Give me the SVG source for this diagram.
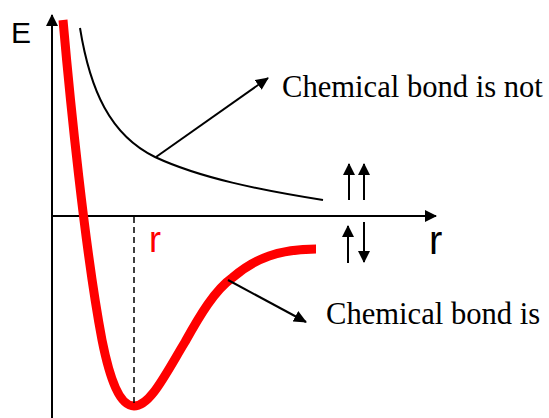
<svg xmlns="http://www.w3.org/2000/svg" width="549" height="418" viewBox="0 0 549 418">
<style>
.ax{stroke:#000;stroke-width:2;fill:none}
.thin{stroke:#000;stroke-width:2;fill:none}
.sans{font-family:"Liberation Sans",Arial,sans-serif}
.serif{font-family:"Liberation Serif","Times New Roman",serif;font-size:30.6px;fill:#000}
</style>
<defs>
<marker id="ah" markerWidth="12" markerHeight="12" refX="11" refY="6" orient="auto" markerUnits="userSpaceOnUse" viewBox="0 0 12 12">
<path d="M0,0 L12,6 L0,12 Z" fill="#000"/>
</marker>
<marker id="ahs" markerWidth="13" markerHeight="12" refX="12" refY="6" orient="auto" markerUnits="userSpaceOnUse" viewBox="0 0 13 12">
<path d="M0,0 L13,6 L0,12 Z" fill="#000"/>
</marker>
</defs>
<rect width="549" height="418" fill="#fff"/>
<g id="axes">
<line class="ax" x1="52" y1="418" x2="52" y2="15" marker-end="url(#ah)"/>
<line class="ax" x1="52" y1="216" x2="436" y2="216" marker-end="url(#ah)"/>
<text class="sans" x="11" y="43" font-size="30">E</text>
<text class="sans" x="429" y="254" font-size="40">r</text>
</g>
<g id="curves">
<path d="M80,28 C90,90 110,135 155,157 C200,178 260,190 323,200" class="thin"/>
<path d="M63,20 C70,100 85,250 102,340 C110,380 120,406 134,406 C150,406 165,375 185,342 C200,315 215,290 232,278 C255,258 280,249 316,249" fill="none" stroke="#f00" stroke-width="9"/>
<line x1="134" y1="217" x2="134" y2="406" stroke="#000" stroke-width="1.5" stroke-dasharray="6,4"/>
<text class="sans" x="149" y="252" font-size="36" fill="#f00">r</text>
</g>
<g id="connectors">
<line class="thin" x1="156" y1="157" x2="268" y2="78" marker-end="url(#ahs)"/>
<line class="thin" x1="228" y1="280" x2="306" y2="322" marker-end="url(#ahs)"/>
</g>
<g id="label-not">
<text class="serif" x="282" y="97">Chemical bond is not</text>
</g>
<g id="label-is">
<text class="serif" x="326" y="324">Chemical bond is</text>
</g>
<g id="spins">
<line class="thin" x1="349" y1="200" x2="349" y2="164" marker-end="url(#ah)"/>
<line class="thin" x1="364" y1="200" x2="364" y2="164" marker-end="url(#ah)"/>
<line class="thin" x1="348" y1="263" x2="348" y2="226" marker-end="url(#ah)"/>
<line class="thin" x1="364" y1="222" x2="364" y2="262" marker-end="url(#ah)"/>
</g>
</svg>
